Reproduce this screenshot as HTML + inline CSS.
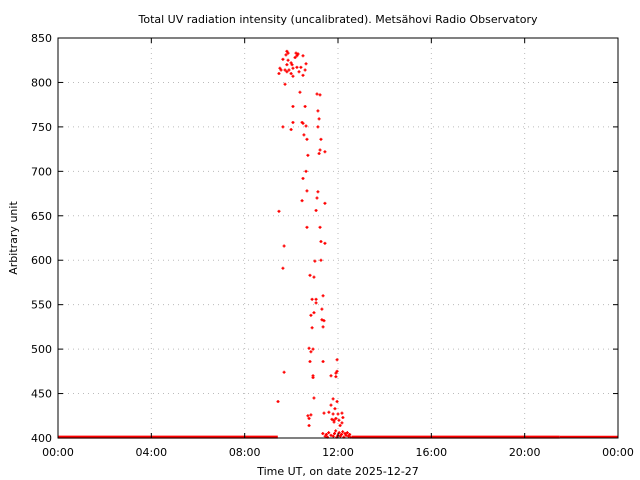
<!DOCTYPE html>
<html><head><meta charset="utf-8"><style>
body{margin:0;background:#fff;}
svg{display:block;font-family:"DejaVu Sans","Liberation Sans",sans-serif;}
</style></head><body>
<svg id="chart" width="640" height="480" viewBox="0 0 640 480" xmlns="http://www.w3.org/2000/svg">
<text x="338" y="23" font-size="11" text-anchor="middle">Total UV radiation intensity (uncalibrated). Metsähovi Radio Observatory</text>
<text x="338" y="475" font-size="11" text-anchor="middle">Time UT, on date 2025-12-27</text>
<text x="17" y="238" font-size="11" text-anchor="middle" transform="rotate(-90 17 238)">Arbitrary unit</text>
<g id="grid"></g>
<g id="marks"></g>
<rect x="58" y="38" width="560" height="400" fill="none" stroke="#000" stroke-width="1"/>
<g id="ticks"></g>
</svg>
<script>
const yTicks=[400,450,500,550,600,650,700,750,800,850];
const xTicks=[0,4,8,12,16,20,24];
const xTickLabels=["00:00","04:00","08:00","12:00","16:00","20:00","00:00"];
const baselineStart=[0,12.6,21.5];
const baselineEnd=[9.42,21.5,24];
const baselineValue=[401,401,401];
const hours=[9.81,9.86,9.77,9.64,9.86,10.16,10.24,10.29,10.2,10.5,10.63,9.99,10.03,9.81,9.51,9.56,9.73,9.9,10.07,10.24,10.59,10.33,9.47,9.81,9.99,10.07,10.5,10.41,
9.73,10.37,11.1,11.23,10.07,10.59,11.14,11.19,9.64,9.99,11.14,10.07,10.46,10.5,10.63,10.54,10.67,11.27,11.23,11.44,11.19,10.71,10.63,10.5,10.67,11.14,11.1,10.46,11.44,11.06,9.47,10.67,11.23,
9.69,11.27,11.44,11.01,11.27,9.64,10.8,10.97,11.36,10.89,11.06,11.06,11.31,10.97,10.84,11.31,11.4,10.89,11.36,10.76,10.93,10.84,11.96,10.8,11.36,9.69,11.96,11.91,10.93,10.93,11.7,11.91,9.43,10.97,11.79,11.96,11.7,11.87,11.4,11.61,12.17,10.71,10.84,10.76,11.79,12.0,11.74,11.83,12.21,11.91,12.04,11.83,10.76,12.17,12.09,
11.35,11.45,11.5,11.55,11.6,11.7,11.8,11.85,11.9,11.95,12.0,12.05,12.1,12.15,12.2,12.25,12.3,12.35,12.4,12.45,12.5,12.55];
const values=[835,833,831,826,825,828,830,832,833,830,821,822,820,820,816,814,814,814,816,817,814,812,810,812,810,807,808,817,
798,789,787,786,773,773,768,759,750,747,750,755,755,754,751,741,736,736,724,722,720,718,700,692,678,677,670,667,664,656,655,637,637,
616,621,619,599,600,591,583,581,560,556,556,552,545,541,538,533,532,524,525,501,500,497,488,486,486,474,475,473,470,468,470,469,441,445,444,441,437,433,428,429,428,425,426,422,427,427,421,420,423,422,420,418,414,417,414,
405,402,404,401,406,403,402,405,408,401,403,406,402,404,407,401,405,403,406,402,404,401];
const X=h=>58+h*560/24;
const Y=v=>438-(v-400)*400/450;
const NS="http://www.w3.org/2000/svg";
const grid=document.getElementById('grid'),ticks=document.getElementById('ticks'),marks=document.getElementById('marks');
function mk(tag,attrs,parent){const e=document.createElementNS(NS,tag);for(const k in attrs)e.setAttribute(k,attrs[k]);parent.appendChild(e);return e;}
yTicks.forEach(v=>{
  const y=Y(v);
  if(v>400&&v<850){const g=mk('line',{x1:58,x2:618,y1:y,y2:y,stroke:'#bbb','stroke-dasharray':'1,4'},grid);
  
  }
  mk('line',{x1:58,x2:63,y1:y,y2:y,stroke:'#000'},ticks);
  mk('line',{x1:613,x2:618,y1:y,y2:y,stroke:'#000'},ticks);
  const t=mk('text',{x:52,y:y+4,'font-size':11,'text-anchor':'end'},ticks);t.textContent=v;
  
  
});
xTicks.forEach((h,i)=>{
  const x=X(h);
  if(h>0&&h<24){const g=mk('line',{x1:x,x2:x,y1:38,y2:438,stroke:'#bbb','stroke-dasharray':'1,4'},grid);
  
  }
  mk('line',{x1:x,x2:x,y1:433,y2:438,stroke:'#000'},ticks);
  mk('line',{x1:x,x2:x,y1:38,y2:43,stroke:'#000'},ticks);
  const t=mk('text',{x:x,y:456,'font-size':11,'text-anchor':'middle'},ticks);t.textContent=xTickLabels[i];
  
  
});
baselineStart.forEach((s,i)=>{
  const w=i===2?1.8:3;
  const l=mk('line',{x1:X(s),x2:X(baselineEnd[i]),y1:Y(baselineValue[i])-(i===2?0.5:0),y2:Y(baselineValue[i])-(i===2?0.5:0),stroke:'#f00','stroke-width':w},marks);
  
  
});
hours.forEach((h,i)=>{
  const x=X(h),y=Y(values[i]);
  const p=mk('path',{d:`M${x-1.5} ${y}H${x+1.5}M${x} ${y-1.5}V${y+1.5}`,stroke:'#f00','stroke-width':1.3},marks);
  
  
});
</script>
</body></html>
